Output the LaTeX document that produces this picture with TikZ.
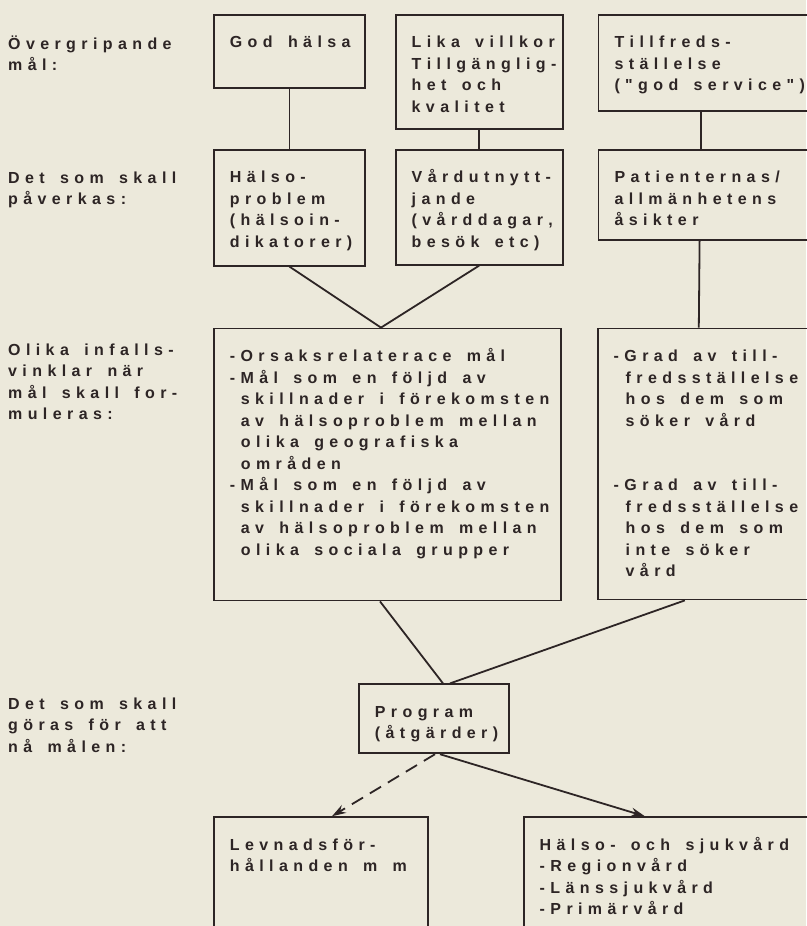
\documentclass[tikz,border=0pt]{standalone}
\usepackage{fontspec}
\usepackage{tikz}
\usetikzlibrary{positioning, arrows.meta}
\newfontfamily\typsnitt{Liberation Sans}[UprightFont=* Bold]
% spärrad stil: kern mellan alla tecken, mellanrum efter ord
\newXeTeXintercharclass\bokstav
\newcount\tecken
\tecken=33
\loop
  \XeTeXcharclass\tecken=\bokstav
  \advance\tecken by 1
\ifnum\tecken<127 \repeat
\XeTeXcharclass`å=\bokstav \XeTeXcharclass`ä=\bokstav \XeTeXcharclass`ö=\bokstav
\XeTeXcharclass`Å=\bokstav \XeTeXcharclass`Ä=\bokstav \XeTeXcharclass`Ö=\bokstav
\XeTeXinterchartoks\bokstav\bokstav={\kern5.4pt}
\XeTeXinterchartoks\bokstav 4095={\hskip10pt plus 2pt\relax}
\newcommand{\skrift}{\typsnitt\fontsize{16pt}{21.5pt}\selectfont\XeTeXinterchartokenstate=1\relax}
\definecolor{papper}{RGB}{236,233,219}
\definecolor{svart}{RGB}{45,37,37}
\tikzstyle{ruta} = [rectangle, draw=svart, line width=1.8pt, text=svart, font=\skrift, inner xsep=0pt, inner ysep=21pt, text height=12pt, execute at begin node={\leftskip=16pt\rightskip=-40pt plus 1fil}]
\tikzstyle{niva} = [anchor=north west, inner sep=0pt, text=svart, font=\skrift, text width=200pt, text height=12pt]
\tikzstyle{linje} = [line width=1.8pt, draw=svart]
\tikzstyle{pil} = [linje, ->, >={Stealth[length=14pt, width=9pt]}]

\begin{document}
\begin{tikzpicture}[x=1pt, y=1pt]
\path[use as bounding box, fill=papper] (0,0) rectangle (806,-926);

% vanstra spalten
\node (mal)     [niva] at (8,-37)  {Övergripande\\mål:};
\node (paverka) [niva] at (8,-171) {Det som skall\\påverkas:};
\node (vinkel)  [niva] at (8,-343) {Olika infalls-\\vinklar när\\mål skall for-\\muleras:};
\node (gora)    [niva] at (8,-697) {Det som skall\\göras för att\\nå målen:};

% rutorna
\node (halsa)   [ruta, anchor=north west, text width=151pt, text depth=19pt] at (213,-14) {God hälsa};
\node (villkor) [ruta, below right=0 and 29 of halsa.north east, text width=167pt, text depth=60pt] {Lika villkor\\Tillgänglig-\\het och\\kvalitet};
\node (nojd)    [ruta, below right=0 and 34 of villkor.north east, text width=240pt, text depth=42pt] {Tillfreds-\\ställelse\\("god service")};
\node (problem) [ruta, below right=60 and 0 of halsa.south west, text width=151pt, text depth=62pt] {Hälso-\\problem\\(hälsoin-\\dikatorer)};
\node (utnytt)  [ruta, below right=0 and 29 of problem.north east, text width=167pt, text depth=61pt] {Vårdutnytt-\\jande\\(vårddagar,\\besök etc)};
\node (asikt)   [ruta, below right=37 and 0 of nojd.south west, text width=240pt, text depth=36pt] {Patienternas/\\allmänhetens\\åsikter};
\node (malbox)  [ruta, below right=61 and 0 of problem.south west, text width=347pt, text depth=218pt] {-Orsaksrelaterace mål\\
  -Mål som en följd av\\
  \hspace*{11pt}skillnader i förekomsten\\
  \hspace*{11pt}av hälsoproblem mellan\\
  \hspace*{11pt}olika geografiska\\
  \hspace*{11pt}områden\\
  -Mål som en följd av\\
  \hspace*{11pt}skillnader i förekomsten\\
  \hspace*{11pt}av hälsoproblem mellan\\
  \hspace*{11pt}olika sociala grupper};
\node (grad)    [ruta, below right=0 and 35 of malbox.north east, text width=240pt, text depth=217pt] {-Grad av till-\\
  \hspace*{12pt}fredsställelse\\
  \hspace*{12pt}hos dem som\\
  \hspace*{12pt}söker vård\\[43pt]
  -Grad av till-\\
  \hspace*{12pt}fredsställelse\\
  \hspace*{12pt}hos dem som\\
  \hspace*{12pt}inte söker\\
  \hspace*{12pt}vård};
\node (prog)    [ruta, below right=82 and 145 of malbox.south west, text width=150pt, text depth=15pt] {Program\\(åtgärder)};
\node (levnad)  [ruta, below right=62 and -145 of prog.south west, text width=214pt, text depth=106pt] {Levnadsför-\\hållanden m m};
\node (vard)    [ruta, below right=0 and 94 of levnad.north east, text width=310pt, text depth=106pt] {Hälso- och sjukvård\\-Regionvård\\-Länssjukvård\\-Primärvård};

% linjer
\draw [linje] (halsa) -- (problem);
\draw [linje] (villkor) -- (utnytt);
\draw [linje] ([xshift=103]nojd.south west) -- ([xshift=103]asikt.north west);
\coordinate (spets) at ([xshift=168]malbox.north west);
\draw [linje] (problem.south) -- (spets) -- (utnytt.south);
\draw [linje] ([xshift=102]asikt.south west) -- ([xshift=102]grad.north west);
\draw [linje] ([xshift=167]malbox.south west) -- ([xshift=85]prog.north west);
\draw [linje] ([xshift=88]grad.south west) -- ([xshift=92]prog.north west);
\draw [pil, dash pattern=on 13pt off 8pt] ([xshift=77]prog.south west) -- ([xshift=119]levnad.north west);
\draw [pil] ([xshift=82]prog.south west) -- ([xshift=122]vard.north west);
\end{tikzpicture}
\end{document}
